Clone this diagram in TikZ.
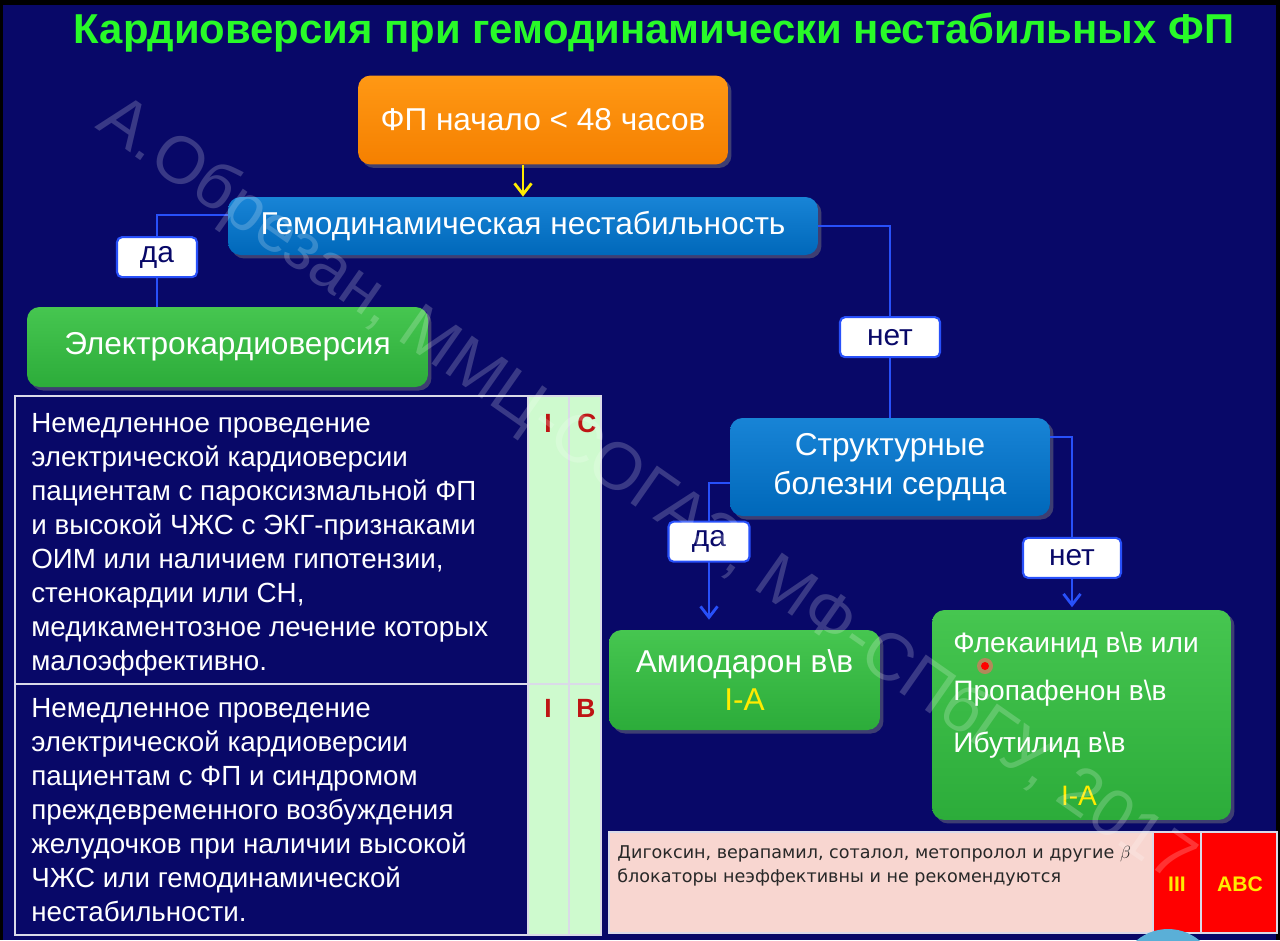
\documentclass[tikz,border=0pt]{standalone}
\usepackage{fontspec}
\setmainfont{Liberation Sans}
\setsansfont{Liberation Sans}
\newfontfamily\notefont{DejaVu Sans}
\usepackage{tikz}
\usetikzlibrary{positioning,arrows.meta,calc,shadows}
\definecolor{cvNavy}{RGB}{8,8,104}
\definecolor{cvTitle}{RGB}{40,250,40}
\definecolor{cvOrange}{RGB}{245,128,0}
\definecolor{cvOrangeTop}{RGB}{255,152,20}
\definecolor{cvBlue}{RGB}{0,104,186}
\definecolor{cvBlueTop}{RGB}{24,132,214}
\definecolor{cvGreen}{RGB}{44,172,58}
\definecolor{cvGreenTop}{RGB}{70,198,80}
\definecolor{cvLine}{RGB}{40,80,250}
\definecolor{cvYellow}{RGB}{255,235,0}
\definecolor{cvPale}{RGB}{206,250,206}
\definecolor{cvMark}{RGB}{190,20,20}
\definecolor{cvPink}{RGB}{248,214,208}
\definecolor{cvRed}{RGB}{255,0,0}
\definecolor{cvInk}{RGB}{40,40,40}
\definecolor{cvDisc}{RGB}{90,175,215}
\tikzset{
    base/.style={font=\sffamily, align=center},
    box/.style={base, rectangle, rounded corners=2.5mm, text=white, inner sep=2mm,
                font=\sffamily\fontsize{18}{22}\selectfont,
                drop shadow={opacity=0.45, shadow xshift=0.7mm, shadow yshift=-0.7mm}},
    start/.style={box, top color=cvOrangeTop, bottom color=cvOrange},
    query/.style={box, top color=cvBlueTop, bottom color=cvBlue},
    action/.style={box, top color=cvGreenTop, bottom color=cvGreen},
    answer/.style={base, rectangle, rounded corners=1mm, draw=cvLine, line width=1.2pt,
                   fill=white, text=cvNavy, minimum height=0.8cm, minimum width=1.6cm,
                   inner sep=1mm, font=\sffamily\fontsize{17}{20}\selectfont},
    link/.style={draw=cvLine, line width=1.6pt},
    flow/.style={link, -{Straight Barb[length=2.2mm, width=3.4mm]}},
    yflow/.style={flow, draw=cvYellow},
    cell/.style={base, anchor=base west, align=left, text=white, inner sep=0pt,
                 font=\sffamily\fontsize{15.8}{19.3}\selectfont},
    grade/.style={base, anchor=base, inner sep=0pt, text=cvMark,
                  font=\sffamily\bfseries\fontsize{15}{17}\selectfont},
    drug/.style={base, anchor=base west, inner sep=0pt, text=white,
                 font=\sffamily\fontsize{16}{21}\selectfont},
    tblline/.style={draw=white!85!cvNavy, line width=1.2pt}
}

\begin{document}
\begin{tikzpicture}[x=0.02cm, y=-0.02cm]
  \useasboundingbox (0,0) rectangle (1280,940);
  \clip (0,0) rectangle (1280,940);
  % slide background
  \fill[black] (0,0) rectangle (1280,940);
  \fill[cvNavy] (3,5) rectangle (1276,940);

  % heading
  \node[base, text=cvTitle, font=\sffamily\bfseries\fontsize{23.8}{26}\selectfont] (title) at (654,33)
    {Кардиоверсия при гемодинамически нестабильных ФП};

  % decision boxes
  \node[start, minimum width=7.4cm, minimum height=1.78cm] (onset) at (543,120) {ФП начало < 48 часов};
  \node[query, minimum width=11.8cm, minimum height=1.16cm] (hemo) at (523,226) {Гемодинамическая нестабильность};
  \node[action, minimum width=8.02cm, minimum height=1.6cm] (electro) at (227.5,347) {Электрокардиоверсия};
  \node[query, minimum width=6.4cm, minimum height=1.96cm] (struct) at (890,467) {Структурные\\болезни сердца};
  \node[action, minimum width=5.42cm, minimum height=2cm, font=\sffamily\fontsize{18}{21.5}\selectfont] (amio) at (744.5,680)
    {Амиодарон в\textbackslash в\\\textcolor{cvYellow}{I-A}};
  \node[action, minimum width=5.98cm, minimum height=4.2cm] (flec) at (1081.5,715) {};
  \node[drug] (flecA) at (953,652) {Флекаинид в\textbackslash в или};
  \node[drug] (flecB) at (953,700) {Пропафенон в\textbackslash в};
  \node[drug] (flecC) at (953,752) {Ибутилид в\textbackslash в};
  \node[drug, anchor=base, text=cvYellow] (flecD) at (1079,805) {I-A};

  % connectors with answers
  \draw[yflow] (onset.south -| hemo.north) -- (hemo.north);
  \draw[link] ([yshift=0.22cm]hemo.west) -| node[answer, pos=0.73] (yes1) {да} ([xshift=-1.41cm]electro.north);
  \draw[link] (hemo.east) -| node[answer, pos=0.79, minimum width=2cm] (no1) {нет} (struct.north);
  \draw[flow, shorten >=0.2cm] ([yshift=-0.32cm]struct.west) -| node[answer, pos=0.7, minimum width=1.62cm] (yes2) {да} ([xshift=-0.71cm]amio.north);
  \draw[flow, shorten >=0.05cm] ([yshift=0.6cm]struct.east) -| node[answer, pos=0.85, minimum width=1.96cm] (no2) {нет} ([xshift=-0.19cm]flec.north);

  % recommendation table
  \fill[cvPale] (528,396) rectangle (601,935);
  \draw[tblline] (15,396) rectangle (601,935);
  \draw[tblline] (15,684) -- (601,684);
  \draw[tblline] (528,396) -- (528,935);
  \draw[tblline, line width=0.6pt] (569,396) -- (569,935);
  \node[cell] (rowA) at (31,670) {Немедленное проведение\\электрической кардиоверсии\\пациентам с пароксизмальной ФП\\и высокой ЧЖС с ЭКГ-признаками\\ОИМ или наличием гипотензии,\\стенокардии или СН,\\медикаментозное лечение которых\\малоэффективно.};
  \node[grade] (classA) at (548,432) {I};
  \node[grade] (levelA) at (587,432) {C};
  \node[cell] (rowB) at (31,921) {Немедленное проведение\\электрической кардиоверсии\\пациентам с ФП и синдромом\\преждевременного возбуждения\\желудочков при наличии высокой\\ЧЖС или гемодинамической\\нестабильности.};
  \node[grade] (classB) at (548,717) {I};
  \node[grade] (levelB) at (586,717) {B};

  % warning strip
  \fill[cvPink] (609,832) rectangle (1153,933);
  \fill[cvRed] (1153,832) rectangle (1277,933);
  \draw[tblline] (609,832) rectangle (1277,933);
  \draw[tblline, line width=0.8pt] (1153,832) -- (1153,933);
  \draw[tblline, line width=0.8pt] (1201,832) -- (1201,933);
  \node[base, anchor=base west, align=left, inner sep=0pt, text=cvInk, font=\notefont\fontsize{10}{13.6}\selectfont] (warn) at (617,882)
    {Дигоксин, верапамил, соталол, метопролол и другие $\beta$\\блокаторы неэффективны и не рекомендуются};
  \node[base, text=cvYellow, font=\sffamily\bfseries\fontsize{12}{14}\selectfont] (classW) at (1177,884) {III};
  \node[base, text=cvYellow, font=\sffamily\bfseries\fontsize{12}{14}\selectfont] (levelW) at (1240,884) {ABC};

  % screen marks
  \fill[red!60!white, opacity=0.6] (985,666) circle (0.16cm);
  \fill[cvRed] (985,666) circle (0.08cm);
  \fill[cvDisc] (1168,978) circle (0.98cm);

  % watermark
  \node[base, text=white, text opacity=0.2, rotate=-35, font=\sffamily\fontsize{38}{42}\selectfont] (stamp) at (645,492)
    {А.Обрезан, ММЦ-СОГАЗ, МФ-СПбГУ, 2017};
\end{tikzpicture}
\end{document}
